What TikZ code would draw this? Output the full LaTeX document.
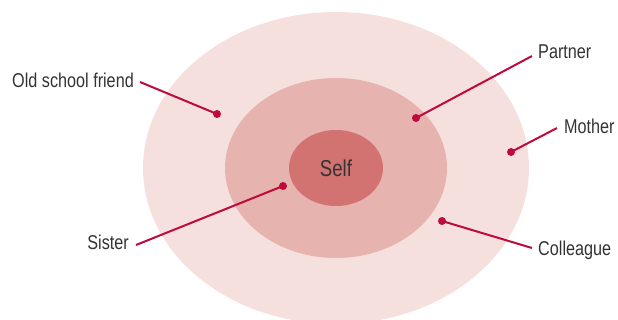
\documentclass[tikz,border=0pt]{standalone}
\usepackage{fontspec}
\setmainfont{Liberation Sans}[FakeStretch=0.81]
\usetikzlibrary{shapes.geometric}
\definecolor{outerc}{HTML}{F5E0DE}
\definecolor{midc}{HTML}{E6B3AE}
\definecolor{innerc}{HTML}{D27271}
\definecolor{linec}{HTML}{BE0A3C}
\definecolor{txtc}{HTML}{333333}
\tikzset{
  ring/.style={ellipse, draw=none, inner sep=0pt},
  dot/.style={circle, fill=linec, inner sep=0pt, minimum size=8pt},
  lbl/.style={text=txtc, font=\fontsize{20}{23}\selectfont, inner sep=0pt},
  conn/.style={draw=linec, line width=2pt}
}
\begin{document}
\begin{tikzpicture}[x=1pt,y=-1pt]
\useasboundingbox (0,0) rectangle (618,320);
\node[ring, fill=outerc, minimum width=386pt, minimum height=312pt] (outer) at (336,168) {};
\node[ring, fill=midc, minimum width=222pt, minimum height=180pt] (mid) at (336,168) {};
\node[ring, fill=innerc, minimum width=94pt, minimum height=76pt] (inner) at (336,168) {};
\node[lbl, font=\fontsize{23}{26}\selectfont] (self) at (336,168) {Self};

\node[dot] (d1) at (217,114) {};
\node[dot] (d2) at (416,118) {};
\node[dot] (d3) at (511,152) {};
\node[dot] (d4) at (283,186) {};
\node[dot] (d5) at (442,221) {};

\node[lbl, anchor=east] (l1) at (134,80) {Old school friend};
\node[lbl, anchor=west] (l2) at (538,52) {Partner};
\node[lbl, anchor=west] (l3) at (564,126) {Mother};
\node[lbl, anchor=east] (l4) at (129,242) {Sister};
\node[lbl, anchor=west] (l5) at (538,250) {Colleague};

\coordinate (c1) at (140,82);
\coordinate (c2) at (532,56);
\coordinate (c3) at (557,128);
\coordinate (c4) at (136,245);
\coordinate (c5) at (532,248);

\draw[conn] (c1) -- (d1.center);
\draw[conn] (c2) -- (d2.center);
\draw[conn] (c3) -- (d3.center);
\draw[conn] (c4) -- (d4.center);
\draw[conn] (c5) -- (d5.center);
\end{tikzpicture}
\end{document}
